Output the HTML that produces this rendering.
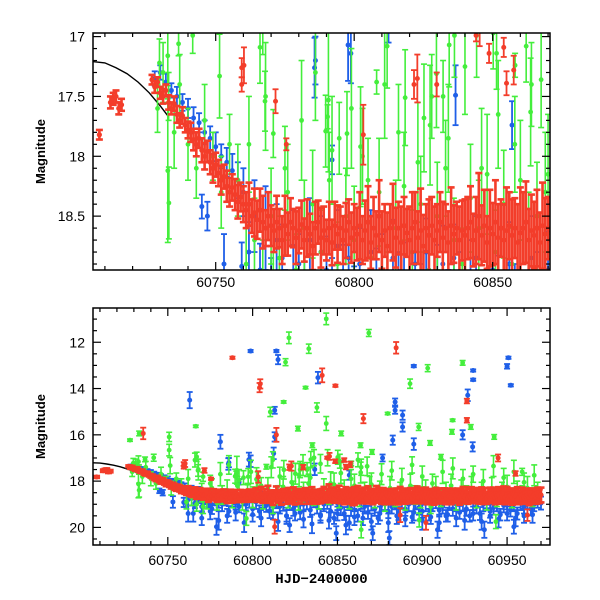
<!DOCTYPE html>
<html><head><meta charset="utf-8"><style>
html,body{margin:0;padding:0;background:#fff;width:600px;height:600px;overflow:hidden}
svg{display:block;font-family:"Liberation Sans",sans-serif}
</style></head><body>
<svg id="chart" width="600" height="600" viewBox="0 0 600 600"></svg>
<script>
// ---- data ----
const curveT=[60704,60706,60710,60714,60718,60722,60726,60730,60733];
const curveM=[17.21,17.21,17.22,17.26,17.31,17.38,17.47,17.58,17.67];

const redT=[60708,60712,60713,60714,60715,60716,
60727,60728,60729,60730,60731,60732,60733,60734,60735,60736,60737,60738,60739,60740,
60741,60742,60743,60744,60745,60746,60747,60748,60749,60750,60751,60752,60753,60754,60755,60756,60757,60758,60759,60760,
60761,60762,60763,60764,60765,60766,60767,60768,60769,60770,60771,60772,60773,60774,60775,60776,60777,60778,60779,60780,
60781,60782,60783,60784,60785,60786,60787,60788,60789,60790,60791,60792,60793,60794,60795,60796,60797,60798,60799,60800,
60801,60802,60803,60804,60805,60806,60807,60808,60809,60810,60811,60812,60813,60814,60815,60816,60817,60818,60819,60820,
60821,60822,60823,60824,60825,60826,60827,60828,60829,60830,60831,60832,60833,60834,60835,60836,60837,60838,60839,60840,
60841,60842,60843,60844,60845,60846,60847,60848,60849,60850,60851,60852,60853,60854,60855,60856,60857,60858,60859,60860,
60861,60862,60863,60864,60865,60866,60867,60868,60869,60870,60871,60872,60873,60874,60875,60876,60877,60878,60879,60880,
60881,60882,60883,60884,60885,60886,60887,60888,60889,60890,60891,60892,60893,60894,60895,60896,60897,60898,60899,60900,
60901,60902,60903,60904,60905,60906,60907,60908,60909,60910,60911,60912,60913,60914,60915,60916,60917,60918,60919,60920,
60921,60922,60923,60924,60925,60926,60927,60928,60929,60930,60931,60932,60933,60934,60935,60936,60937,60938,60939,60940,
60941,60942,60943,60944,60945,60946,60947,60948,60949,60950,60951,60952,60953,60954,60955,60956,60957,60958,60959,60960,
60961,60962,60963,60964,60965,60966,60967,60968,60969,60970];
const redM=[17.82,17.55,17.52,17.5,17.6,17.57,
17.36,17.42,17.38,17.47,17.5,17.45,17.55,17.6,17.56,17.65,17.7,17.66,17.74,17.78,
17.8,17.86,17.9,17.85,17.95,18.0,17.96,18.05,18.1,18.07,18.14,18.2,18.17,18.25,18.3,18.26,18.32,18.38,18.34,18.4,
18.45,18.4,18.5,18.47,18.53,18.45,18.55,18.6,18.5,18.58,18.62,18.55,18.6,18.7,18.58,18.65,18.55,18.6,18.68,18.62,
18.57,18.7,18.6,18.65,18.75,18.6,18.55,18.68,18.62,18.7,18.6,18.72,18.58,18.65,18.6,18.7,18.62,18.55,18.68,18.6,
18.65,18.58,18.7,18.62,18.55,18.72,18.6,18.66,18.5,18.7,18.62,18.75,18.6,18.55,18.68,18.6,18.72,18.58,18.64,18.7,
18.6,18.55,18.68,18.62,18.75,18.6,18.66,18.58,18.7,18.62,18.55,18.68,18.6,18.72,18.58,18.65,18.6,18.7,18.62,18.66,
18.6,18.55,18.7,18.62,18.5,18.66,18.58,18.72,18.6,18.65,18.55,18.68,18.6,18.7,18.62,18.58,18.66,18.6,18.72,18.64,
18.6,18.55,18.7,18.62,18.66,18.6,18.72,18.58,18.65,18.6,18.7,18.62,18.55,18.68,18.6,18.66,18.58,18.7,18.62,18.65,
18.62,18.7,18.58,18.66,18.6,18.75,18.55,18.68,18.62,18.7,18.6,18.65,18.58,18.72,18.62,18.66,18.55,18.7,18.6,18.68,
18.62,18.58,18.72,18.6,18.66,18.62,18.7,18.55,18.65,18.6,18.72,18.62,18.58,18.68,18.6,18.66,18.7,18.6,18.62,18.65,
18.6,18.7,18.62,18.55,18.68,18.6,18.72,18.64,18.58,18.66,18.6,18.7,18.62,18.68,18.55,18.65,18.6,18.72,18.62,18.58,
18.66,18.6,18.7,18.64,18.6,18.68,18.62,18.55,18.7,18.6,18.66,18.62,18.7,18.58,18.65,18.6,18.72,18.62,18.6,18.68,
18.64,18.6,18.7,18.62,18.66,18.6,18.68,18.62,18.65,18.6];
const redE=[.04,.05,.05,.05,.05,.05,
.04,.05,.04,.05,.06,.05,.06,.05,.06,.07,.06,.07,.06,.07,
.08,.09,.1,.08,.1,.11,.09,.1,.12,.1,.11,.12,.1,.13,.12,.11,.13,.14,.12,.15,
.15,.18,.14,.2,.16,.18,.22,.15,.2,.17,.18,.22,.16,.2,.25,.18,.2,.16,.22,.19,
.2,.18,.24,.17,.2,.22,.18,.25,.2,.17,.22,.19,.2,.24,.18,.2,.23,.19,.21,.2,
.22,.28,.2,.25,.3,.22,.26,.2,.3,.24,.22,.28,.2,.32,.25,.22,.3,.24,.2,.28,
.3,.25,.22,.35,.26,.2,.3,.24,.28,.22,.25,.3,.2,.26,.32,.24,.22,.28,.25,.3,
.26,.3,.22,.28,.36,.25,.3,.22,.32,.26,.35,.28,.24,.3,.36,.28,.3,.25,.32,.38,
.3,.34,.26,.3,.28,.32,.25,.36,.3,.26,.3,.28,.34,.25,.3,.32,.28,.3,.26,.3,
.28,.3,.25,.32,.28,.26,.3,.24,.3,.28,.26,.3,.28,.24,.3,.27,.32,.26,.3,.28,
.26,.3,.28,.25,.3,.28,.32,.26,.3,.28,.25,.3,.27,.32,.28,.26,.3,.28,.25,.3,
.28,.32,.26,.3,.28,.34,.26,.3,.32,.28,.3,.26,.32,.3,.28,.34,.3,.26,.32,.3,
.28,.32,.3,.26,.34,.3,.28,.32,.3,.35,.28,.3,.32,.26,.3,.34,.28,.3,.32,.3,
.3,.28,.34,.3,.32,.28,.3,.34,.3,.32];
const redXT=[60759.4,60759.4,60771.6,60775.5,60821.6,60803.3,60829.8,60848.7,60854,60857.6,60855,60844,
60788.1,60804.1,60804.5,60735.5,60841,60848.8,60884.6,60865.3,60926.3,60926.3,60814,60760.2,60845.3,60822.8,60944.7,60955,60813,60902.2,60887,60962];
const redXM=[17.26,17.4,17.54,17.9,17.4,17.82,17.4,17.14,17.09,17.28,17.39,16.99,
12.67,13.96,13.8,15.94,13.43,13.88,12.24,15.3,14.54,15.37,16.0,17.24,16.93,17.35,17.0,17.67,19.97,19.8,19.47,19.47];
const redXE=[.08,.06,.1,.05,.12,.25,.1,.08,.08,.12,.1,.05,
.05,.2,.2,.25,.3,.05,.25,.2,.1,.1,.3,.15,.15,.2,.15,.1,.3,.3,.3,.25];

const blueT=[60728,60730,60732,60734,60736,60738,60740,60742,60744,60746,60748,60750,60752,60754,60756,60758,60760,
60762,60764,60766,60768,60770,60772,60774,60776,60778,60780,60782,60784,60786,60788,60790,60792,60794,60796,60798,60800,
60802,60804,60806,60808,60810,60812,60814,60816,60818,60820,60822,60824,60826,60828,60830,60832,60834,60836,60838,60840,
60842,60844,60846,60848,60850,60852,60854,60856,60858,60860,60862,60864,60866,60868,60870,60872,60874,60876,60878,60880,
60882,60884,60886,60888,60890,60892,60894,60896,60898,60900,60902,60904,60906,60908,60910,60912,60914,60916,60918,60920,
60922,60924,60926,60928,60930,60932,60934,60936,60938,60940,60942,60944,60946,60948,60950,60952,60954,60956,60958,60960,60962,60964,60966,60968,60970];
const blueM=[17.35,17.3,17.38,17.45,17.5,17.55,17.6,17.68,17.72,17.8,17.85,17.92,18.0,18.05,18.12,18.2,18.3,
18.8,18.5,18.95,18.6,19.1,18.7,18.85,19.2,18.75,18.9,19.0,18.7,19.3,18.8,18.95,19.1,18.75,19.0,18.85,19.2,
18.9,19.3,18.8,19.05,18.95,19.4,18.85,19.1,19.0,19.5,18.9,19.2,18.8,19.35,19.0,18.9,19.25,18.85,19.1,19.45,
19.0,18.85,19.3,19.6,18.95,19.15,19.4,18.9,19.2,19.0,19.5,18.85,19.1,19.35,18.95,19.2,19.6,19.0,18.9,19.3,
19.1,18.9,19.4,18.85,19.2,19.0,19.55,18.9,19.15,19.3,18.95,19.45,19.0,18.85,19.25,19.1,19.5,18.9,19.2,19.0,
19.35,18.95,19.2,19.5,18.9,19.1,19.4,19.0,18.85,19.3,19.15,18.95,19.45,19.05,18.9,19.25,19.0,19.4,18.95,19.1,18.9,19.2,19.0,18.85,18.95];
const blueE=[.06,.06,.07,.06,.08,.07,.08,.09,.08,.1,.1,.12,.1,.12,.14,.15,.2,
.25,.3,.22,.35,.25,.3,.28,.22,.3,.25,.3,.35,.22,.3,.28,.25,.3,.26,.3,.28,
.3,.25,.35,.28,.3,.25,.32,.3,.28,.25,.35,.3,.28,.3,.26,.32,.3,.28,.3,.25,
.3,.35,.28,.25,.3,.32,.28,.35,.3,.3,.25,.35,.3,.28,.32,.3,.25,.3,.35,.3,
.3,.32,.28,.35,.3,.3,.25,.32,.3,.28,.35,.25,.3,.32,.28,.3,.25,.35,.3,.3,
.28,.32,.3,.25,.35,.3,.28,.3,.32,.28,.3,.35,.25,.3,.32,.28,.3,.26,.3,.3,.32,.28,.3,.3,.28];
const blueLowT=[60765,60770,60775,60780,60785,60790,60795,60800,60805,60810,60815,60820,60825,60830,60835,60840,60845,60850,60855,60860,60865,60870,60875,60880,60885,60890,60895,60900,60905,60910,60915,60920,60925,60930,60935,60940,60945,60950,60955,60960,60965];
const blueLowM=[19.4,19.6,19.3,19.7,19.5,19.35,19.8,19.45,19.6,19.3,19.75,19.5,19.4,19.65,19.85,19.5,19.7,19.4,19.9,19.55,19.6,19.75,19.4,19.8,19.5,19.65,19.35,19.7,19.55,19.8,19.45,19.6,19.7,19.4,19.75,19.5,19.65,19.4,19.6,19.5,19.45];
const blueLowE=[.35,.3,.35,.4,.3,.35,.4,.3,.35,.3,.4,.35,.3,.35,.4,.3,.35,.3,.4,.35,.3,.35,.3,.4,.35,.3,.35,.4,.3,.35,.3,.35,.4,.3,.35,.3,.35,.3,.35,.3,.35];
const blueXT=[60785.7,60797.8,60836.6,60857,60792,60745,60747,60759.4,
60798.8,60814,60815,60762.9,60781,60786,60798.8,60838.5,60813,60813,60812.4,60895,60884,60884,60888.4,60888.4,60895,60930,60930,60926.8,60950.8,60950,60952.2,60923.8,60929.7,60876.6,60882.6,
60762,60778.7,60849.3,60857,60870.8,60880.6,60936.6,60954,60909,60821.8,60753];
const blueXM=[17.26,17.07,17.49,17.74,18.03,18.42,18.5,18.92,
12.38,12.38,12.75,14.5,16.3,17.2,17.14,13.53,14.94,16.09,16.8,13.03,14.58,14.94,15.15,15.66,16.4,13.22,13.62,14.29,12.67,13.04,13.86,16.0,16.52,17.0,16.23,
19.4,19.97,20.25,19.8,20.25,20.46,20.1,19.97,20.1,19.9,18.9];
const blueXE=[.25,.3,.25,.2,.12,.1,.12,.2,
.05,.05,.2,.35,.3,.2,.25,.25,.15,.2,.25,.05,.15,.15,.2,.2,.25,.05,.05,.25,.05,.1,.05,.2,.2,.15,.2,
.35,.35,.3,.3,.3,.3,.35,.3,.35,.3,.25];

const greenT=[60729,60731,60733,60735,60737,60740,60743,60746,60749,60752,60755,60758,
60761,60764,60767,60770,60773,60776,60779,60782,60785,60788,60791,60794,60797,60800,60803,60806,60809,60812,60815,60818,60821,60824,60827,60830,60833,60836,60839,60842,60845,60848,60851,60854,60857,60860,60863,60866,60869,
60872,60875,60878,60881,60884,60887,60890,60893,60896,60899,60902,60905,60908,60911,60914,60917,60920,60923,60926,60929,60932,60935,60938,60941,60944,60947,60950,60953,60956,60959,60962,60965,60968];
const greenM=[17.6,17.3,17.5,17.8,17.4,17.9,18.1,17.7,18.0,18.3,17.9,18.2,
18.9,18.7,19.0,18.5,18.85,18.3,18.95,18.6,18.4,18.8,18.2,18.9,18.5,18.7,18.0,18.85,18.3,19.1,18.6,18.25,18.8,18.4,18.95,18.5,18.1,18.7,18.9,18.35,18.6,18.15,18.8,18.4,18.9,18.2,18.7,18.5,18.3,
18.8,18.45,19.0,18.3,18.7,18.5,18.9,18.2,18.6,18.8,18.4,19.1,18.3,18.7,18.5,18.2,18.9,18.4,18.6,18.3,18.8,18.5,18.95,18.35,18.7,18.5,18.25,18.8,18.45,18.6,18.3,18.7,18.5];
const greenE=[.2,.25,.2,.3,.25,.3,.25,.3,.2,.3,.25,.3,
.3,.35,.3,.4,.35,.4,.3,.4,.45,.35,.4,.35,.4,.45,.4,.35,.45,.3,.4,.45,.35,.4,.3,.45,.4,.35,.3,.45,.4,.5,.35,.45,.3,.5,.4,.45,.5,
.35,.45,.3,.5,.4,.45,.35,.5,.4,.35,.45,.3,.5,.4,.45,.5,.35,.45,.4,.5,.35,.45,.3,.5,.4,.45,.5,.35,.45,.4,.5,.4,.45];
const greenUpT=[60762,60768,60775,60781,60786,60792,60799,60805,60811,60816,60823,60828,60834,60840,60846,60852,60858,60864,60870,60876,60882,60888,60894,60900,60906,60912,60918,60924,60930,60936,60942,60948,60954,60960,60966];
const greenUpM=[17.9,17.5,18.1,17.7,17.3,17.95,17.6,18.2,17.4,17.8,18.05,17.5,17.85,17.25,18.1,17.65,17.9,17.4,18.15,17.7,17.55,17.95,17.3,17.8,18.1,17.6,17.45,17.9,17.7,18.0,17.35,17.85,17.6,18.05,17.75];
const greenUpE=[.4,.45,.35,.5,.4,.45,.5,.35,.45,.4,.5,.35,.45,.4,.5,.45,.4,.35,.5,.45,.4,.5,.35,.45,.4,.5,.45,.4,.35,.5,.45,.4,.5,.4,.45];
const greenXT=[60741.7,60736.6,60732.7,60729.7,60751.4,60732.7,60766,60767.8,60770.8,60789.7,60794.6,60797.4,60790.7,60818.4,60825.2,60829.7,60834.3,60832.1,60827.4,60851.4,60862.1,60867.5,60863.7,60836.2,60850.2,60844.2,60811.9,60802.3,
60727.7,60843.4,60868.5,60821.4,60833.1,60819.4,60903.2,60923.8,60831.2,60818.3,60837.9,60810.4,60843.4,60892.8,60766.5,60826.7,60879.6,60897.9,60917.9,60928.6,60942.4,60750.8,60750.8,60733.1,60835.2,60852.2,60863.6,60870.4,60904.6,60917.5,60767,60790.4,60808.1,60858.1,60911,60958.9,
60733.1,60770.8,60796.3,60864,60943.4,60898.2];
const greenXM=[16.99,17.06,17.16,17.22,17.33,18.12,17.09,17.54,17.81,17.79,17.85,17.81,17.53,17.51,17.68,17.31,17.07,17.5,17.74,17.14,17.08,17.36,17.63,16.99,16.97,16.99,17.08,17.92,
16.23,10.99,11.6,11.81,12.28,12.86,13.12,12.89,13.96,14.58,14.82,15.01,15.51,13.79,15.63,15.73,15.08,15.66,15.37,15.66,16.09,16.09,16.66,15.94,16.45,15.94,16.45,16.74,16.35,15.87,16.95,17.67,17.38,17.24,16.95,17.6,
18.39,19.1,19.61,20.1,19.75,19.68];
const greenXE=[.15,.1,.25,.2,.35,.6,.3,.25,.2,.3,.3,.35,.6,.4,.45,.45,.35,.3,.5,.3,.3,.4,.45,.35,.3,.35,.35,.5,
.05,.25,.15,.25,.2,.15,.15,.1,.05,.05,.2,.2,.3,.2,.05,.1,.05,.15,.05,.1,.1,.2,.25,.1,.1,.1,.1,.1,.1,.1,.2,.1,.1,.1,.1,.15,
.3,.3,.3,.35,.3,.3];

// ---- rendering ----
const NS='http://www.w3.org/2000/svg';
const svg=document.getElementById('chart');
function mk(tag,attrs,parent){const e=document.createElementNS(NS,tag);for(const k in attrs)e.setAttribute(k,attrs[k]);(parent||svg).appendChild(e);return e;}

const panels=[
 {name:'top',x0:93,x1:550,y0:33,y1:270,tmin:60705.7,tmax:60870.7,mmin:16.97,mmax:18.95,xMajor:50,xMinor:10,yMajor:0.5,yMinor:0.1,yLabels:[17,17.5,18,18.5],xLabels:[60750,60800,60850],xLabelY:287,showTitle:false},
 {name:'bottom',x0:93,x1:550,y0:308,y1:545,tmin:60705.9,tmax:60975.3,mmin:10.52,mmax:20.76,xMajor:50,xMinor:10,yMajor:2,yMinor:0.5,yLabels:[12,14,16,18,20],xLabels:[60750,60800,60850,60900,60950],xLabelY:565,showTitle:true}
];
const COL={red:'#f33d2a',blue:'#1f5fe8',green:'#44ee3c'};

panels.forEach((p,pi)=>{
  const sx=t=>p.x0+(t-p.tmin)/(p.tmax-p.tmin)*(p.x1-p.x0);
  const sy=m=>p.y0+(m-p.mmin)/(p.mmax-p.mmin)*(p.y1-p.y0);
  const g=mk('g',{});
  
  
  const cp=mk('clipPath',{id:'clip'+pi},g);
  mk('rect',{x:p.x0,y:p.y0,width:p.x1-p.x0,height:p.y1-p.y0},cp);
  const plot=mk('g',{'clip-path':'url(#clip'+pi+')'},g);
  
  

  function series(T,M,E,color,nm,sw,cw,r){
    const sg=mk('g',{stroke:color,fill:color,'stroke-width':sw},plot);
    
    
    for(let i=0;i<T.length;i++){
      const x=sx(T[i]),y=sy(M[i]),ya=sy(M[i]-E[i]),yb=sy(M[i]+E[i]);
      mk('line',{x1:x,x2:x,y1:ya,y2:yb},sg);
      mk('line',{x1:x-cw,x2:x+cw,y1:ya,y2:ya},sg);
      mk('line',{x1:x-cw,x2:x+cw,y1:yb,y2:yb},sg);
      mk('circle',{cx:x,cy:y,r:r,stroke:'none'},sg);
    }
  }
  series(blueT,blueM,blueE,COL.blue,'blue-band-points',1.8,3,2.5);
  series(blueLowT,blueLowM,blueLowE,COL.blue,'blue-faint-points',1.8,3,2.5);
  series(blueXT,blueXM,blueXE,COL.blue,'blue-outlier-points',1.8,3,2.5);
  series(greenT,greenM,greenE,COL.green,'green-band-points',1.6,3,2.4);
  series(greenUpT,greenUpM,greenUpE,COL.green,'green-bright-points',1.6,3,2.4);
  series(greenXT,greenXM,greenXE,COL.green,'green-outlier-points',1.6,3,2.4);
  series(redT,redM,redE,COL.red,'red-band-points',2.6,3.5,2.6);
  series(redXT,redXM,redXE,COL.red,'red-outlier-points',1.8,3,2.5);

  let d='';
  curveT.forEach((t,i)=>{d+=(i?'L':'M')+sx(t).toFixed(1)+','+sy(curveM[i]).toFixed(1);});
  const cv=mk('path',{d:d,fill:'none',stroke:'#000','stroke-width':1.4},plot);
  
  
  plot.insertBefore(cv,plot.firstChild);

  const fr=mk('rect',{x:p.x0,y:p.y0,width:p.x1-p.x0,height:p.y1-p.y0,fill:'none',stroke:'#000','stroke-width':1.5},g);
  
  
  const tk=mk('g',{stroke:'#000','stroke-width':1.2},g);
  
  
  const tStart=Math.ceil(p.tmin/p.xMinor)*p.xMinor;
  for(let t=tStart;t<=p.tmax;t+=p.xMinor){
    const maj=Math.abs(t/p.xMajor-Math.round(t/p.xMajor))<1e-6;const L=maj?8:4;const x=sx(t);
    mk('line',{x1:x,x2:x,y1:p.y1,y2:p.y1-L},tk);
    mk('line',{x1:x,x2:x,y1:p.y0,y2:p.y0+L},tk);
  }
  const mStart=Math.ceil(p.mmin/p.yMinor-1e-6)*p.yMinor;
  for(let m=mStart;m<=p.mmax+1e-6;m+=p.yMinor){
    const r=m/p.yMajor;const maj=Math.abs(r-Math.round(r))<1e-4;const L=maj?8:4;const y=sy(m);
    mk('line',{x1:p.x0,x2:p.x0+L,y1:y,y2:y},tk);
    mk('line',{x1:p.x1,x2:p.x1-L,y1:y,y2:y},tk);
  }
  p.xLabels.forEach(v=>{
    const tx=mk('text',{x:sx(v),y:p.xLabelY,'text-anchor':'middle','font-size':14,fill:'#000'},g);
    tx.textContent=v;
    
    
  });
  p.yLabels.forEach(v=>{
    const tx=mk('text',{x:p.x0-8,y:sy(v)+5,'text-anchor':'end','font-size':14,fill:'#000'},g);
    tx.textContent=v;
    
    
  });
  const yt=mk('text',{x:0,y:0,transform:'translate(45,'+((p.y0+p.y1)/2)+') rotate(-90)','text-anchor':'middle','font-size':13,'font-weight':'bold',fill:'#000'},g);
  yt.textContent='Magnitude';
  
  
  if(p.showTitle){
    const xt=mk('text',{x:(p.x0+p.x1)/2,y:583,'text-anchor':'middle','font-size':14,'font-weight':'bold',fill:'#000','font-family':'Liberation Mono, monospace'},g);
    xt.textContent='HJD\u22122400000';
    
    
  }
});
</script>
</body></html>
